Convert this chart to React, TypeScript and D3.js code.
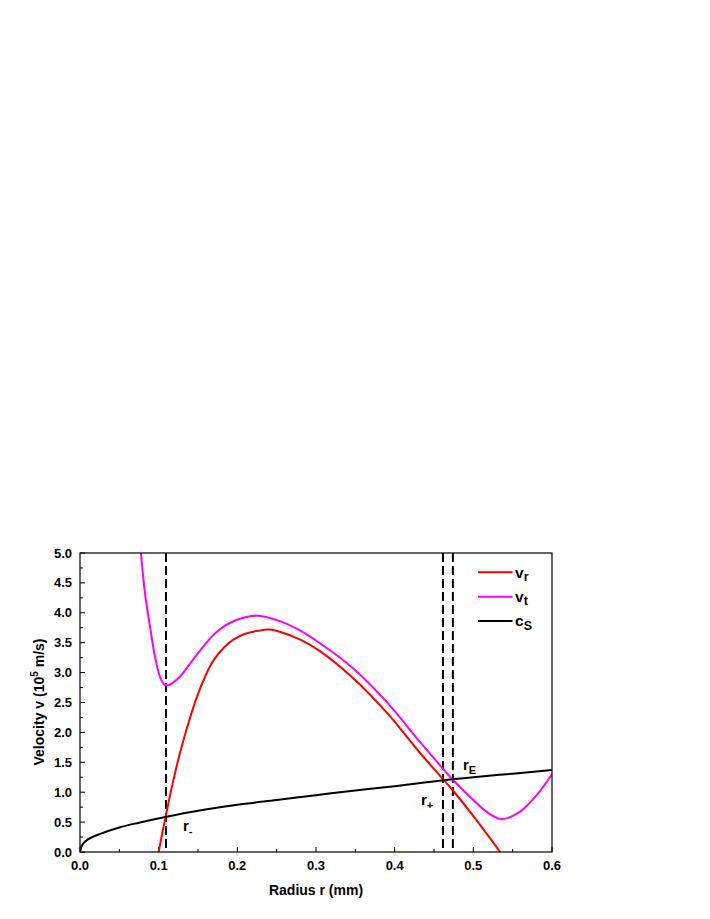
import React from "react";
import * as d3 from "d3";

// radius (mm) -> velocity (10^5 m/s)
const vtR = [0.0765, 0.0775, 0.0826, 0.089, 0.0953, 0.1017, 0.1075, 0.1123, 0.118, 0.127, 0.148, 0.1737, 0.199, 0.2267, 0.254, 0.28, 0.305, 0.3474, 0.3898, 0.4322, 0.4576, 0.4746, 0.5, 0.517, 0.536, 0.559, 0.5805, 0.6];
const vtV = [5.15, 5.0, 4.33, 3.77, 3.27, 2.93, 2.8, 2.79, 2.83, 2.93, 3.29, 3.68, 3.88, 3.95, 3.86, 3.7, 3.49, 3.07, 2.51, 1.84, 1.45, 1.2, 0.87, 0.67, 0.55, 0.67, 0.95, 1.3];

const vrR = [0.0995, 0.1, 0.105, 0.11, 0.118, 0.127, 0.137, 0.148, 0.16, 0.1695, 0.183, 0.195, 0.21, 0.2267, 0.24, 0.255, 0.28, 0.305, 0.347, 0.39, 0.432, 0.462, 0.4746, 0.5, 0.534, 0.535];
const vrV = [-0.03, 0.0, 0.34, 0.66, 1.16, 1.65, 2.12, 2.57, 2.96, 3.2, 3.42, 3.55, 3.65, 3.7, 3.72, 3.68, 3.55, 3.36, 2.91, 2.33, 1.66, 1.21, 1.02, 0.6, 0.0, -0.02];

const csR = [0, 0.003, 0.01, 0.025, 0.05, 0.075, 0.11, 0.15, 0.2, 0.25, 0.3, 0.35, 0.4, 0.462, 0.5, 0.55, 0.6];
const csV = [0, 0.12, 0.21, 0.3, 0.41, 0.49, 0.59, 0.69, 0.79, 0.87, 0.95, 1.03, 1.1, 1.2, 1.25, 1.31, 1.37];

const markers = [0.1093, 0.4614, 0.474];

const xTicks = [0, 0.1, 0.2, 0.3, 0.4, 0.5, 0.6];
const yTicks = [0, 0.5, 1, 1.5, 2, 2.5, 3, 3.5, 4, 4.5, 5];

const font = "'Liberation Sans', Arial, sans-serif";

export default function App() {
  const x = d3.scaleLinear().domain([0, 0.6]).range([80, 552]);
  const y = d3.scaleLinear().domain([0, 5]).range([852, 553]);

  const line = d3
    .line<[number, number]>()
    .x((d) => x(d[0]))
    .y((d) => y(d[1]))
    .curve(d3.curveCatmullRom.alpha(0.5));

  const zip = (a: number[], b: number[]) => a.map((v, i) => [v, b[i]] as [number, number]);

  const series = [
    { name: "r", data: zip(vrR, vrV), color: "#ff0000", sym: "v", sub: "r" },
    { name: "t", data: zip(vtR, vtV), color: "#ff00ff", sym: "v", sub: "t" },
    { name: "s", data: zip(csR, csV), color: "#000000", sym: "c", sub: "S" },
  ];

  const xMinor = d3.range(0, 0.6001, 0.05);
  const yMinor = d3.range(0, 5.001, 0.25);

  return (
    <svg width={710} height={919} style={{ position: "absolute", left: 0, top: 0 }} fontFamily={font}>
      <rect width={710} height={919} fill="#fff" />
      <defs>
        <clipPath id="plot">
          <rect x={80} y={553} width={472} height={299} />
        </clipPath>
      </defs>

      {/* ticks, pointing inward */}
      {xMinor.map((t) => (
        <line key={"xt" + t} x1={x(t)} x2={x(t)} y1={852} y2={Math.round(t * 100) % 10 === 0 ? 847 : 849} stroke="#000" strokeWidth={1} />
      ))}
      {yMinor.map((t) => (
        <line key={"yt" + t} x1={80} x2={Math.round(t * 100) % 50 === 0 ? 85 : 83} y1={y(t)} y2={y(t)} stroke="#000" strokeWidth={1} />
      ))}

      <g clipPath="url(#plot)">
        {markers.map((m) => (
          <line key={m} x1={x(m)} x2={x(m)} y1={553} y2={852} stroke="#000" strokeWidth={2} strokeDasharray="9,4" />
        ))}
        {series.map((s) => (
          <path key={s.name} d={line(s.data) || ""} fill="none" stroke={s.color} strokeWidth={2} />
        ))}
      </g>

      <rect x={80} y={553} width={472} height={299} fill="none" stroke="#000" strokeWidth={1.2} />

      {xTicks.map((t) => (
        <text key={"xl" + t} x={x(t)} y={870} textAnchor="middle" fontSize={13} fontWeight="bold">
          {t.toFixed(1)}
        </text>
      ))}
      {yTicks.map((t) => (
        <text key={"yl" + t} x={72} y={y(t) + 4.5} textAnchor="end" fontSize={13} fontWeight="bold">
          {t.toFixed(1)}
        </text>
      ))}

      <text x={316} y={895} textAnchor="middle" fontSize={14} fontWeight="bold">
        Radius r (mm)
      </text>
      <text transform="translate(44,702) rotate(-90)" textAnchor="middle" fontSize={14} fontWeight="bold">
        Velocity v  (10
        <tspan dy={-6} fontSize={10}>5</tspan>
        <tspan dy={6}> m/s)</tspan>
      </text>

      {/* legend */}
      {series.map((s, i) => (
        <g key={"lg" + s.name} transform={`translate(478,${572.3 + i * 24.4})`}>
          <line x1={0} x2={34.5} y1={0} y2={0} stroke={s.color} strokeWidth={2} />
          <text x={37} y={5.2} fontSize={15.5} fontWeight="bold">
            {s.sym}
            <tspan dy={3.5} fontSize={12.5}>{s.sub}</tspan>
          </text>
        </g>
      ))}

      {/* annotations */}
      <text x={183} y={831} fontSize={15} fontWeight="bold">
        r<tspan dy={4} fontSize={11}>-</tspan>
      </text>
      <text x={421} y={805} fontSize={15} fontWeight="bold">
        r<tspan dy={4} fontSize={11}>+</tspan>
      </text>
      <text x={463} y={770} fontSize={15} fontWeight="bold">
        r<tspan dy={4} fontSize={11}>E</tspan>
      </text>
    </svg>
  );
}
